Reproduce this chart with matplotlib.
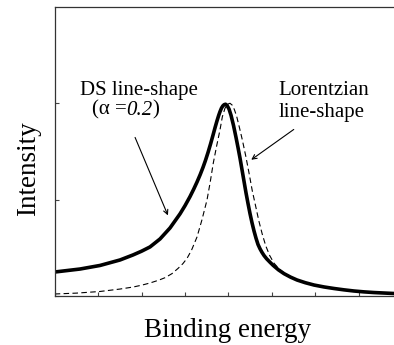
import matplotlib
matplotlib.use('Agg')
import matplotlib.pyplot as plt

plt.rcParams['font.family'] = ['Liberation Serif', 'DejaVu Serif']

# DS line-shape (alpha = 0.2)
ds_x = [0.0, 0.583, 1.043, 1.504, 1.803, 2.0, 2.194, 2.425, 2.655, 2.885, 3.0, 3.115,
        3.2, 3.277, 3.35, 3.415, 3.47, 3.53, 3.59, 3.645, 3.695, 3.737, 3.775, 3.806,
        3.84, 3.87, 3.90, 3.933, 3.968, 4.014, 4.06, 4.117, 4.175, 4.221, 4.267, 4.313,
        4.359, 4.405, 4.451, 4.497, 4.543, 4.589, 4.635, 4.681, 4.727, 4.77, 4.82, 4.88,
        4.96, 5.03, 5.15, 5.28, 5.43, 5.58, 5.77, 5.97, 6.2, 6.43, 6.66, 6.89, 7.12,
        7.35, 7.58, 7.812]
ds_y = [0.249, 0.280, 0.317, 0.374, 0.426, 0.465, 0.509, 0.592, 0.706, 0.852, 0.937, 1.031,
        1.108, 1.183, 1.26, 1.335, 1.405, 1.489, 1.58, 1.669, 1.752, 1.818, 1.873, 1.913,
        1.95, 1.972, 1.985, 1.99, 1.978, 1.94, 1.875, 1.77, 1.645, 1.54, 1.43, 1.31,
        1.19, 1.07, 0.96, 0.855, 0.76, 0.675, 0.60, 0.535, 0.49, 0.455, 0.42, 0.386,
        0.349, 0.318, 0.272, 0.232, 0.196, 0.166, 0.138, 0.114, 0.094, 0.078, 0.064, 0.052,
        0.043, 0.036, 0.031, 0.026]

# Lorentzian line-shape
lor_x = [0.0, 0.5, 1.043, 1.5, 1.803, 2.0, 2.194, 2.4, 2.54, 2.7, 2.839, 2.95, 3.046,
         3.15, 3.277, 3.39, 3.507, 3.58, 3.652, 3.73, 3.806, 3.86, 3.921, 3.979, 4.036,
         4.094, 4.14, 4.191, 4.255, 4.32, 4.40, 4.474, 4.55, 4.628, 4.70, 4.78, 4.86,
         4.95, 5.05, 5.16, 5.28, 5.43, 5.58, 5.77, 5.97, 6.2, 6.43, 6.66, 6.89, 7.12,
         7.35, 7.58, 7.812]
lor_y = [0.021, 0.03, 0.047, 0.072, 0.093, 0.112, 0.135, 0.165, 0.19, 0.232, 0.286, 0.335, 0.39,
         0.475, 0.613, 0.79, 0.997, 1.18, 1.381, 1.56, 1.724, 1.86, 1.949, 1.99, 2.0,
         1.978, 1.931, 1.862, 1.745, 1.62, 1.45, 1.277, 1.09, 0.93, 0.78, 0.64, 0.52,
         0.42, 0.34, 0.285, 0.24, 0.2, 0.168, 0.138, 0.114, 0.094, 0.078, 0.064, 0.052, 0.043,
         0.036, 0.031, 0.026]

fig = plt.figure(figsize=(3.94, 3.45), dpi=100)
ax = fig.add_axes([0.1388, 0.142, 0.8612, 0.838])

ax.plot(lor_x, lor_y, color='black', lw=0.8, linestyle=(0, (5, 3)))
ax.plot(ds_x, ds_y, color='black', lw=2.6, solid_capstyle='round', solid_joinstyle='round')

ax.set_xlim(0, 7.812)
ax.set_ylim(0, 3)
ax.set_xticks(range(8))
ax.set_yticks([0, 1, 2])
ax.tick_params(direction='in', length=3, width=0.8, color='#444444',
               labelbottom=False, labelleft=False)
ax.spines['right'].set_visible(False)
for s in ['left', 'bottom', 'top']:
    ax.spines[s].set_linewidth(0.9)
    ax.spines[s].set_color('#333333')

ax.set_xlabel('Binding energy', fontsize=19.5)
ax.xaxis.set_label_coords(0.509, -0.075)
ax.set_ylabel('Intensity', fontsize=19.5)
ax.yaxis.set_label_coords(-0.040, 0.44)

ax.text(0.583, 2.087, 'DS line-shape', fontsize=15, va='baseline', ha='left')
t1 = ax.text(0.852, 1.880, '(α =', fontsize=15, va='baseline', ha='left')
t2 = ax.annotate('0.2', xy=(1, 0), xycoords=t1, fontsize=15, style='italic',
                 va='bottom', ha='left')
ax.annotate(')', xy=(1, 0), xycoords=t2, fontsize=15, va='bottom', ha='left')
ax.text(5.148, 2.087, 'Lorentzian', fontsize=15, va='baseline', ha='left')
ax.text(5.148, 1.862, 'line-shape', fontsize=15, va='baseline', ha='left')

arrow = dict(arrowstyle='->', lw=0.8, color='black', mutation_scale=8)
ax.annotate('', xy=(2.632, 0.81), xytext=(1.826, 1.672), arrowprops=arrow)
ax.annotate('', xy=(4.473, 1.397), xytext=(5.556, 1.745), arrowprops=arrow)

fig.savefig('out.png', dpi=100)
